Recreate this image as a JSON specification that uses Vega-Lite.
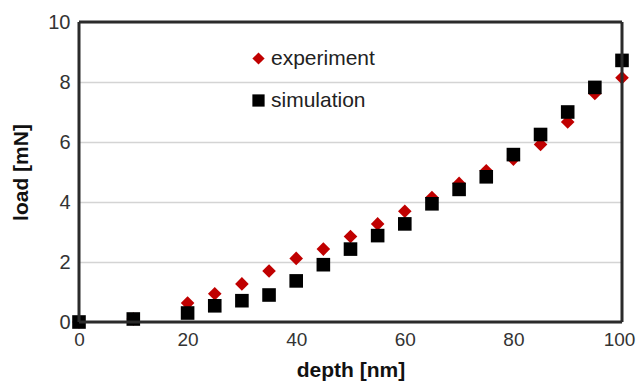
{
  "$schema": "https://vega.github.io/schema/vega-lite/v6.json",
  "width": 543,
  "height": 300,
  "autosize": {"type": "none"},
  "padding": {"left": 79, "top": 22, "right": 14, "bottom": 64},
  "background": "white",
  "config": {
    "font": "Liberation Sans",
    "view": {"stroke": null}
  },
  "datasets": {
    "points": [
      {"depth": 0, "load": 0, "series": "experiment"},
      {"depth": 10, "load": 0.1, "series": "experiment"},
      {"depth": 20, "load": 0.63, "series": "experiment"},
      {"depth": 25, "load": 0.94, "series": "experiment"},
      {"depth": 30, "load": 1.27, "series": "experiment"},
      {"depth": 35, "load": 1.7, "series": "experiment"},
      {"depth": 40, "load": 2.12, "series": "experiment"},
      {"depth": 45, "load": 2.43, "series": "experiment"},
      {"depth": 50, "load": 2.85, "series": "experiment"},
      {"depth": 55, "load": 3.27, "series": "experiment"},
      {"depth": 60, "load": 3.69, "series": "experiment"},
      {"depth": 65, "load": 4.15, "series": "experiment"},
      {"depth": 70, "load": 4.62, "series": "experiment"},
      {"depth": 75, "load": 5.04, "series": "experiment"},
      {"depth": 80, "load": 5.43, "series": "experiment"},
      {"depth": 85, "load": 5.92, "series": "experiment"},
      {"depth": 90, "load": 6.67, "series": "experiment"},
      {"depth": 95, "load": 7.62, "series": "experiment"},
      {"depth": 100, "load": 8.14, "series": "experiment"},
      {"depth": 0, "load": 0, "series": "simulation"},
      {"depth": 10, "load": 0.1, "series": "simulation"},
      {"depth": 20, "load": 0.3, "series": "simulation"},
      {"depth": 25, "load": 0.54, "series": "simulation"},
      {"depth": 30, "load": 0.71, "series": "simulation"},
      {"depth": 35, "load": 0.9, "series": "simulation"},
      {"depth": 40, "load": 1.37, "series": "simulation"},
      {"depth": 45, "load": 1.91, "series": "simulation"},
      {"depth": 50, "load": 2.43, "series": "simulation"},
      {"depth": 55, "load": 2.88, "series": "simulation"},
      {"depth": 60, "load": 3.27, "series": "simulation"},
      {"depth": 65, "load": 3.94, "series": "simulation"},
      {"depth": 70, "load": 4.42, "series": "simulation"},
      {"depth": 75, "load": 4.84, "series": "simulation"},
      {"depth": 80, "load": 5.58, "series": "simulation"},
      {"depth": 85, "load": 6.25, "series": "simulation"},
      {"depth": 90, "load": 7.0, "series": "simulation"},
      {"depth": 95, "load": 7.82, "series": "simulation"},
      {"depth": 100, "load": 8.72, "series": "simulation"}
    ],
    "edges": [
      {"xa": 0, "xb": 0, "ya": 0, "yb": 10},
      {"xa": 100, "xb": 100, "ya": 0, "yb": 10},
      {"xa": 0, "xb": 100, "ya": 0, "yb": 0},
      {"xa": 0, "xb": 100, "ya": 10, "yb": 10}
    ]
  },
  "layer": [
    {
      "data": {"name": "points"},
      "mark": {"type": "point", "filled": true, "opacity": 1, "size": 185, "clip": false},
      "encoding": {
        "x": {
          "field": "depth",
          "type": "quantitative",
          "scale": {"domain": [0, 100], "nice": false, "zero": false},
          "axis": {
            "orient": "bottom",
            "title": "depth [nm]",
            "values": [0, 20, 40, 60, 80, 100],
            "grid": false,
            "ticks": false,
            "domain": false,
            "labelFlush": false,
            "labelOverlap": false,
            "labelFontSize": 19,
            "labelColor": "#333333",
            "labelPadding": 8,
            "labelOffset": {"condition": {"test": "datum.value == 100", "value": -3}, "value": 0},
            "titleFontSize": 21,
            "titleFontWeight": "bold",
            "titleColor": "#111111",
            "titlePadding": 10
          }
        },
        "y": {
          "field": "load",
          "type": "quantitative",
          "scale": {"domain": [0, 10], "nice": false},
          "axis": {
            "orient": "left",
            "title": "load [mN]",
            "values": [0, 2, 4, 6, 8, 10],
            "grid": true,
            "gridColor": "#d4d4d4",
            "gridWidth": 1.5,
            "ticks": false,
            "domain": false,
            "labelFlush": false,
            "labelOverlap": false,
            "labelFontSize": 20,
            "labelColor": "#333333",
            "labelPadding": 9,
            "titleFontSize": 21,
            "titleFontWeight": "bold",
            "titleColor": "#111111",
            "titlePadding": 16
          }
        },
        "color": {
          "field": "series",
          "type": "nominal",
          "scale": {"domain": ["experiment", "simulation"], "range": ["#C00000", "#000000"]},
          "legend": {
            "title": null,
            "orient": "none",
            "legendX": 169,
            "legendY": 26,
            "labelFontSize": 21,
            "labelColor": "#222222",
            "symbolSize": 150,
            "rowPadding": 20,
            "labelOffset": 2,
            "padding": 0
          }
        },
        "shape": {
          "field": "series",
          "type": "nominal",
          "scale": {"domain": ["experiment", "simulation"], "range": ["diamond", "square"]}
        }
      }
    },
    {
      "data": {"name": "edges"},
      "mark": {"type": "rule", "color": "#2b2b2b", "strokeWidth": 3, "clip": false},
      "encoding": {
        "x": {"field": "xa", "type": "quantitative"},
        "x2": {"field": "xb"},
        "y": {"field": "ya", "type": "quantitative"},
        "y2": {"field": "yb"}
      }
    }
  ]
}
